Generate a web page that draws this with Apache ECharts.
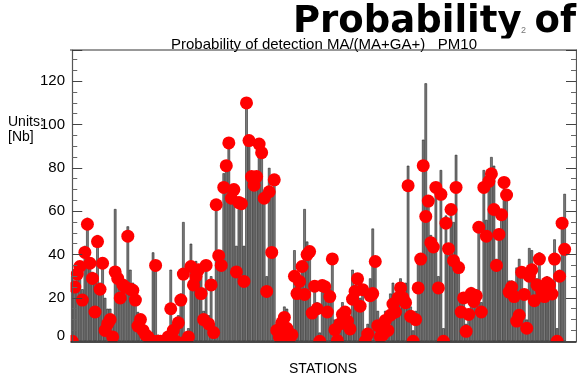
<!DOCTYPE html>
<html>
<head>
<meta charset="utf-8">
<script src="https://cdn.jsdelivr.net/npm/echarts@6/dist/echarts.min.js"></script>
<style>
html,body{margin:0;padding:0;background:#fff;}
#c{width:577px;height:378px;}
</style>
</head>
<body>
<div id="c"></div>
<script>
// Station index (0-based) implied by position in the arrays below
const yTicks = [0, 20, 40, 60, 80, 100, 120];

// Bar values (units [Nb]) per station
const bars = [
30,28,33,36,24,44,57,38,32,30, 49,27,38,20,15,15,10,61,32,28,
28,27,53,33,27,22,13.5,12,8,5, 4,2,41,37,3,2,2,3,4,33,
8,3,12,22,55,4,6,45,29,37, 35,33,14,37,12,30,8,64,42,38,
77.5,83,94,68,72,44,66,65,44,110, 94,78,74,78,92,88,68,30,80,70,
76,8,6,12,16,15,5,6,42,32, 30,36,61,46,43,16,28,18,4,28,
27,20,24,40,10,5,10,18,16,12, 10,33,26,31,20,26,5,8,29,52,
39,14,6,8,14,12,22,27,18,24, 29,24,27,81,16,5,14,38,40,93,
119,67,49,46,73,30,79,6,58,45, 63,55,86,37,18,22,8,15,25,22,
24,55,18,79,56,76,85,81,38,52, 60,75,70,28,28,23,34,38,34,24,
10,43,42,33,29,41,25,23,30,29, 27,47,6,33,56,68
];

// Red dot values (probability of detection) per station
const dots = [
0,25,31,34.5,19,41,54,36,29,13.5, 46,24,36,5,8,10,2,32,29,20,
26,25,48.5,24,23.5,19,7,10,5,3, 2,0,0,35,0,0,0,0,2,15,
5,0,8.5,19,31,0,2,34.5,26,30, 33,22,10,35,8,26,4,63,39.5,35,
71,81,91.5,66,70,32,64,63.5,27.6,110, 92.6,76,72,76,91,87,66,23,69,41,
74.5,5,2,8.5,11,6,1,3,30,22, 27.6,34.5,21.6,40,41.4,13,25.4,15,0,25.7,
25.2,13.5,20.6,38,5.3,0.3,8,12.4,13.5,9.3, 5.7,19.4,23,28.8,16.2,23.8,0,3.3,21,22,
36.8,7.2,2,3,9.6,5,12,17.2,13.5,20, 24.6,20,17.8,71.8,11.5,0,10,24.6,37.9,81,
57.6,64.7,45.5,43.5,71,24.6,67.8,0,54.5,42.7, 60.8,37.2,71,34,13.5,20,4.6,12.4,22,18.4,
21,52.6,13.5,71,48.5,73.8,77.3,60.8,35,49.3, 58.4,73.3,67.5,22.7,25,20.6,9.3,12,31.8,21.6,
6,30,33,18.7,26,37.9,22.7,20.6,27,26, 21.8,37.9,0,30,54.5,42.4
];

const titleText = 'Probability of detection MA/(MA+GA+)   PM10';
const bigText = 'Probability of';
const xName = 'STATIONS';
const yName = ['Units:', '[Nb]'];

const chart = echarts.init(document.getElementById('c'), null, {renderer: 'canvas'});

const yAxisCommon = {
  type: 'value', min: 0, max: 134.4, interval: 20,
  z: 20,
  axisLine: {show: true, lineStyle: {color: '#555', width: 1.2}},
  axisTick: {show: true, inside: true, length: 10, lineStyle: {color: '#444', width: 1}},
  minorTick: {show: true, splitNumber: 4, length: 5, lineStyle: {color: '#666', width: 1}},
  splitLine: {show: false},
  minorSplitLine: {show: false}
};

chart.setOption({
  animation: false,
  backgroundColor: '#fff',
  grid: {left: 71, right: 1, top: 50, bottom: 36.75, containLabel: false},
  xAxis: {
    type: 'value', min: -0.5, max: 199.5, z: 20,
    axisLine: {show: true, onZero: false, lineStyle: {color: '#111', width: 1.5}},
    axisTick: {show: false}, axisLabel: {show: false}, splitLine: {show: false}
  },
  yAxis: [
    Object.assign({}, yAxisCommon, {
      position: 'left',
      axisLabel: {
        show: true, showMaxLabel: false, margin: 6, color: '#000',
        fontFamily: 'Liberation Sans, Arial, sans-serif', fontSize: 15,
        formatter: function (v) { return v === 0 ? '{z|0}' : String(v); },
        rich: {z: {fontFamily: 'Liberation Sans, Arial, sans-serif', fontSize: 15, color: '#000', padding: [0, 0, 10, 0]}}
      }
    }),
    Object.assign({}, yAxisCommon, {
      position: 'right',
      axisLabel: {show: false}
    })
  ],
  graphic: {
    elements: [
      {type: 'text', z: 30, style: {text: bigText, x: 293, y: 22, font: 'bold 37px "DejaVu Sans"', fill: '#000', verticalAlign: 'middle', align: 'left'}},
      {type: 'text', z: 30, style: {text: '2', x: 521, y: 31, font: '9px "Liberation Sans", Arial, sans-serif', fill: '#777', verticalAlign: 'middle', align: 'left'}},
      {type: 'rect', z: 31, shape: {x: 0, y: 38.5, width: 577, height: 11}, style: {fill: '#fff'}},
      {type: 'text', z: 32, style: {text: titleText, x: 324, y: 45, font: '15px "Liberation Sans", Arial, sans-serif', fill: '#000', align: 'center', verticalAlign: 'middle'}},
      {type: 'line', z: 32, shape: {x1: 70, y1: 50, x2: 577, y2: 50}, style: {stroke: '#333', lineWidth: 1}},
      {type: 'rect', z: 10, shape: {x: 0, y: 50, width: 70.5, height: 328}, style: {fill: '#fff'}},
      {type: 'rect', z: 10, shape: {x: 0, y: 341.5, width: 577, height: 37}, style: {fill: '#fff'}},
      {type: 'text', z: 32, style: {text: yName[0], x: 8, y: 122, font: '14px "Liberation Sans", Arial, sans-serif', fill: '#000', align: 'left', verticalAlign: 'middle'}},
      {type: 'text', z: 32, style: {text: yName[1], x: 8, y: 137, font: '14px "Liberation Sans", Arial, sans-serif', fill: '#000', align: 'left', verticalAlign: 'middle'}},
      {type: 'text', z: 32, style: {text: xName, x: 323, y: 369, font: '14px "Liberation Sans", Arial, sans-serif', fill: '#000', align: 'center', verticalAlign: 'middle'}}
    ]
  },
  series: [
    {
      type: 'bar', z: 2, barWidth: 2.5,
      data: bars.map(function (v, i) { return [i, v]; }),
      itemStyle: {color: '#7c7c7c', borderColor: '#111', borderWidth: 0.5}
    },
    {
      type: 'scatter', z: 3, symbol: 'circle', symbolSize: 13,
      data: dots.map(function (v, i) { return [i, v]; }),
      itemStyle: {color: '#ff0000', opacity: 1}
    }
  ]
});
</script>
</body>
</html>
